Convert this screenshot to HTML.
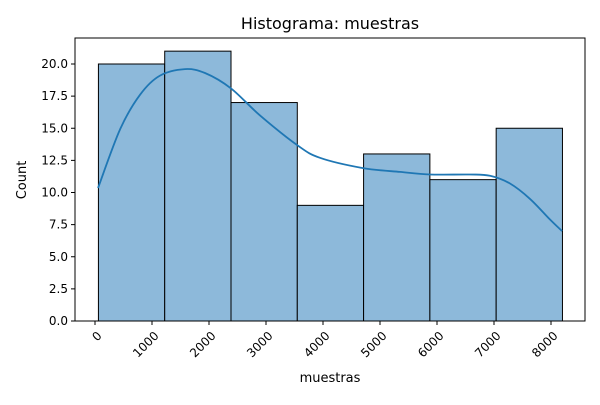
<!DOCTYPE html>
<html><head><meta charset="utf-8"><style>
body{margin:0;background:#fff;}
svg text{font-family:"DejaVu Sans","Liberation Sans",sans-serif;}
</style></head><body>
<svg id="chart" width="600" height="400">
<rect width="600" height="400" fill="#fff"/>
<text x="330" y="29" font-size="16" text-anchor="middle">Histograma: muestras</text>
<g id="marks"></g>
<rect x="75" y="38" width="510" height="283" fill="none" stroke="#000" stroke-width="1"/>
<text x="330" y="382" font-size="13" text-anchor="middle">muestras</text>
<text transform="translate(26,180) rotate(-90)" font-size="13" text-anchor="middle">Count</text>
</svg>
<script>
const binEdges=[60,1223,2386,3549,4712,5875,7038,8201];
const counts=[20,21,17,9,13,11,15];
const xTicks=[0,1000,2000,3000,4000,5000,6000,7000,8000];
const yTicks=[0,2.5,5,7.5,10,12.5,15,17.5,20];
const kdeX=[53,439,789,1140,1579,1930,2386,2895,3544,3947,4702,5351,5877,6579,6930,7281,7632,7982,8193];
const kdeY=[10.35,14.9,17.6,19.1,19.6,19.3,18.1,16.0,13.7,12.7,11.9,11.6,11.4,11.4,11.3,10.7,9.5,7.9,7.0];
const xs=v=>95+v*0.057;
const ys=v=>321-v*12.85;
const NS='http://www.w3.org/2000/svg';
const svg=document.getElementById('chart');
const g=document.getElementById('marks');
function mk(tag,attrs,parent){const e=document.createElementNS(NS,tag);for(const k in attrs)e.setAttribute(k,attrs[k]);(parent||g).appendChild(e);return e;}
counts.forEach((c,i)=>{
  const r=mk('rect',{x:xs(binEdges[i]),y:ys(c),width:xs(binEdges[i+1])-xs(binEdges[i]),height:ys(0)-ys(c),fill:'#8db9da',stroke:'#000','stroke-width':1});
  
  
});
const pts=kdeX.map((x,i)=>[xs(x),ys(kdeY[i])]);
let d='M'+pts[0][0]+','+pts[0][1];
for(let i=0;i<pts.length-1;i++){
  const p0=pts[Math.max(0,i-1)],p1=pts[i],p2=pts[i+1],p3=pts[Math.min(pts.length-1,i+2)];
  const c1=[p1[0]+(p2[0]-p0[0])/6,p1[1]+(p2[1]-p0[1])/6];
  const c2=[p2[0]-(p3[0]-p1[0])/6,p2[1]-(p3[1]-p1[1])/6];
  d+=`C${c1[0].toFixed(1)},${c1[1].toFixed(1)} ${c2[0].toFixed(1)},${c2[1].toFixed(1)} ${p2[0].toFixed(1)},${p2[1].toFixed(1)}`;
}
const p=mk('path',{d:d,fill:'none',stroke:'#1f77b4','stroke-width':1.8,'stroke-linejoin':'round'});


xTicks.forEach(t=>{
  const x=xs(t);
  mk('line',{x1:x,x2:x,y1:321,y2:325,stroke:'#000'},svg);
  const tx=mk('text',{transform:`translate(${x+5},${334}) rotate(-45)`,'font-size':12,'text-anchor':'end','dominant-baseline':'middle'},svg);
  tx.textContent=t;
  
  
});
yTicks.forEach(t=>{
  const y=ys(t);
  mk('line',{x1:71,x2:75,y1:y,y2:y,stroke:'#000'},svg);
  const tx=mk('text',{x:68,y:y+4,'font-size':12,'text-anchor':'end'},svg);
  tx.textContent=t.toFixed(1);
  
  
});
</script>
</body></html>
